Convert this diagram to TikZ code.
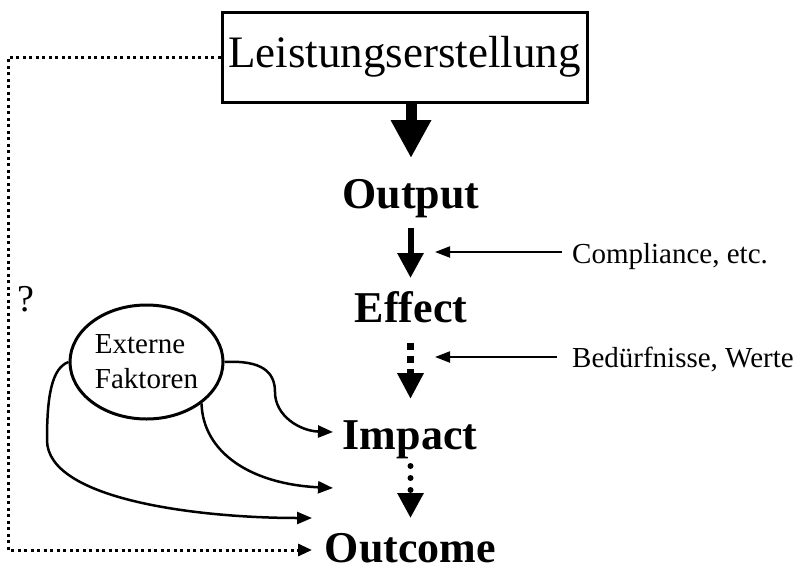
\documentclass[tikz,border=0pt]{standalone}
\usepackage{fontspec}
\setmainfont{Liberation Serif}
\usetikzlibrary{arrows.meta,shapes.geometric}
\begin{document}
\begin{tikzpicture}[x=1pt,y=-1pt,
  boldlabel/.style={font=\fontsize{44}{50}\selectfont\bfseries, inner sep=0pt, anchor=base},
  sidelabel/.style={font=\fontsize{29}{35}\selectfont, inner sep=0pt, anchor=base west},
  bigarrow/.style={line width=11pt, -{Triangle[length=38pt,width=38pt]}},
  midarrow/.style={line width=6pt, -{Triangle[length=25pt,width=25pt]}},
  squaredots/.style={line width=7pt, dash pattern=on 7pt off 6pt, -{Triangle[length=26pt,width=25pt]}},
  rounddots/.style={line width=6pt, line cap=round, dash pattern=on 0pt off 12pt, -{Triangle[length=25pt,width=25pt]}},
  thinarrow/.style={line width=2pt, -{Triangle[length=15pt,width=11pt]}},
  curvearrow/.style={line width=2.5pt, -{Triangle[length=15pt,width=12pt]}},
  feedback/.style={line width=3pt, dash pattern=on 3pt off 3.5pt, -{Triangle[length=14pt,width=12pt]}},
]
\useasboundingbox (0,0) rectangle (807,571);
% nodes
\node[draw, line width=3pt, minimum width=365pt, minimum height=90pt, inner sep=0pt,
      font=\fontsize{45}{54}\selectfont] (box) at (404.5,57) {Leistungserstellung};
\node[boldlabel] (out) at (411,208) {Output};
\node[boldlabel] (eff) at (411,322) {Effect};
\node[boldlabel] (imp) at (410,449) {Impact};
\node[boldlabel] (outc) at (410.5,562) {Outcome};
\node[sidelabel] (comp) at (572,263) {Compliance, etc.};
\node[sidelabel] (bed) at (572,367) {Bedürfnisse, Werte};
\node[font=\fontsize{38}{44}\selectfont, inner sep=0pt, anchor=base] (q) at (26,311) {?};
\node[draw, ellipse, line width=3pt, minimum width=153pt, minimum height=114pt, inner sep=0pt,
      align=left, font=\fontsize{29}{35}\selectfont] (ext) at (146.5,362) {Externe\\Faktoren};
% coordinates for free ends
\coordinate (t1) at (411,158);
\coordinate (s2) at (410.5,228);
\coordinate (t2) at (410.5,278);
\coordinate (s3) at (410.5,343);
\coordinate (t3) at (410.5,399);
\coordinate (s4) at (410.5,466);
\coordinate (t4) at (410.5,518);
\coordinate (c1) at (562,252);
\coordinate (c2) at (435,252);
\coordinate (b1) at (557,357);
\coordinate (b2) at (435,357);
\coordinate (fb) at (8,550);
\coordinate (t5) at (312,550);
\coordinate (t6) at (333,432);
\coordinate (t7) at (333,488);
\coordinate (t8) at (312,518);
% main chain
\draw[bigarrow] (box.south -| out) -- (t1);
\draw[midarrow] (s2) -- (t2);
\draw[squaredots] (s3) -- (t3);
\draw[rounddots] (s4) -- (t4);
% side arrows
\draw[thinarrow] (c1) -- (c2);
\draw[thinarrow] (b1) -- (b2);
% feedback
\draw[feedback] (box.west) -| (fb) -- (t5);
% external factors
\draw[curvearrow] (ext.east) .. controls (262,360) and (275,372) .. (275,392)
   .. controls (275,416) and (300,431) .. (t6);
\draw[curvearrow] (ext.-37) .. controls (203,452) and (250,484) .. (t7);
\draw[curvearrow] (ext.west) .. controls (52,368) and (47,395) .. (47,440)
   .. controls (47,500) and (200,518) .. (t8);
\end{tikzpicture}
\end{document}
